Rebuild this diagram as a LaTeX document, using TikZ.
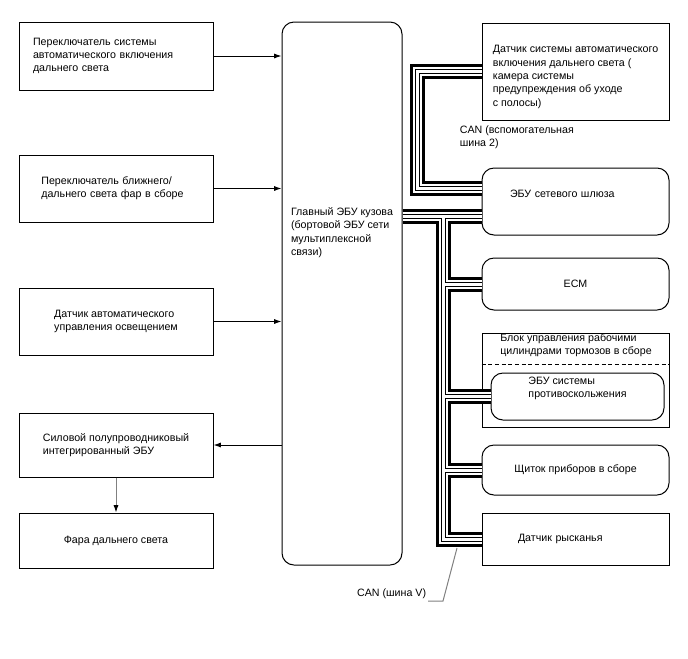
\documentclass[tikz,border=0pt]{standalone}
\usepackage{fontspec}
\setmainfont{Liberation Sans}
\usetikzlibrary{arrows.meta}

\begin{document}
\begin{tikzpicture}[->,>={Latex[length=5.5pt,width=3.8pt]},x=0.75pt,y=-0.75pt,line width=0.75pt,font=\fontsize{8}{10}\selectfont,box/.style={draw,rectangle,minimum width=145.5pt,align=left},part/.style={draw,rectangle,minimum width=140.25pt,align=left},ecu/.style={draw,rectangle,rounded corners=9pt,minimum width=140.25pt,align=left},bus/.style={-,line width=11.25pt,postaction={draw=white,line width=6.75pt},postaction={draw=black,line width=3.75pt},postaction={draw=white,line width=2.25pt}}]
\useasboundingbox (0,0) rectangle (688,658);
\node[box,text width=124.5pt,minimum height=51pt] (1) at (116,56) {Переключатель системы\\автоматического включения\\дальнего света};
\node[box,text width=112pt,minimum height=50.25pt] (2) at (116,188.5) {Переключатель ближнего/\\дальнего света фар в сборе};
\node[box,minimum height=50.25pt] (3) at (116,321.5) {Датчик автоматического\\управления освещением};
\node[box,minimum height=48pt] (4) at (116,445) {Силовой полупроводниковый\\интегрированный ЭБУ};
\node[box,minimum height=41.25pt] (5) at (116,540.5) {Фара дальнего света};
\node[draw,rounded corners=9pt,minimum width=90pt,minimum height=407.25pt,align=left,text depth=93.2pt] (6) at (342,293.5) {Главный ЭБУ кузова\\(бортовой ЭБУ сети\\мультиплексной\\связи)};
\node[part,minimum height=72.75pt,text height=53.5pt] (7) at (575.5,71.5) {Датчик системы автоматического\\включения дальнего света (\\камера системы\\предупреждения об уходе\\с полосы)};
\node[ecu,text width=98.25pt,minimum height=50.25pt,text depth=12pt] (8) at (575.5,201.5) {ЭБУ сетевого шлюза};
\node[ecu,minimum height=39pt] (9) at (575.5,284) {ECM};
\node[part,minimum height=70.5pt] (10) at (575.5,380) {};
\node[align=left] (10t) at (576,345) {Блок управления рабочими\\цилиндрами тормозов в сборе};
\node[ecu,minimum width=129.75pt,minimum height=35.25pt,inner ysep=1pt,text depth=13.7pt] (11) at (577.5,396.5) {ЭБУ системы\\противоскольжения};
\node[ecu,minimum height=37.5pt] (12) at (575.5,470) {Щиток приборов в сборе};
\node[part,text width=86.25pt,minimum height=39pt] (13) at (575.5,539) {Датчик рысканья};
\node[anchor=south east,inner sep=1pt] (14) at (428,601) {CAN (шина V)};
\node[anchor=west,align=left,inner sep=1pt] (15) at (458,137) {CAN (вспомогательная\\шина 2)};
\coordinate (t) at (443.5,216);
\coordinate (u) at (417,130);
\coordinate (v) at (457,548);
\draw[-,dash pattern=on 3pt off 2pt] (10.west |- 0,364) -- (10.east |- 0,364);
\path (1.east) edge (1.east -| 6.west);
\path (2.east) edge (2.east -| 6.west);
\path (3.east) edge (3.east -| 6.west);
\path (4.east -| 6.west) edge (4.east);
\path (4) edge[draw=gray,-{Latex[length=5.5pt,width=3.8pt,color=black]}] (5);
\draw[bus] (t -| 6.east) -- (t -| 8.west) (t) |- (13.west) (t |- 9.west) -- (9.west) (t |- 11.west) -- (11.west) (t |- 12.west) -- (12.west);
\draw[bus] (7.west) -| (u) |- ([yshift=10pt]8.west);
\draw[-,gray] (14.south east) -- ++(15,0) -- (v);
\end{tikzpicture}
\end{document}
